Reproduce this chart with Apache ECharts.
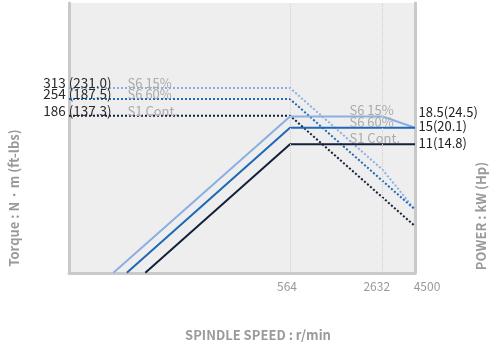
<!DOCTYPE html>
<html>
<head>
<meta charset="utf-8">
<script src="https://cdn.jsdelivr.net/npm/echarts@6/dist/echarts.min.js"></script>
<style>
  html, body { margin: 0; padding: 0; background: #fff; }
  #chart { width: 497px; height: 350px; }
</style>
</head>
<body>
<div id="chart"></div>
<script>
// Spindle speed ticks (r/min)
const speedTicks = [564, 2632, 4500];

// Output power curves: [speed r/min, power kW]
const powerS6_15 = [[30, 0.98], [564, 18.5], [2632, 18.5], [4500, 15]];
const powerS6_60 = [[37.5, 0.98], [564, 15], [4500, 15]];
const powerS1 = [[51, 0.98], [564, 11], [4500, 11]];

// Torque curves: [speed r/min, torque N·m]
const torqueS6_15 = [[14.35, 313], [564, 313], [2632, 67.1], [4500, 31.8]];
const torqueS6_60 = [[14.35, 254], [564, 254], [4500, 31.8]];
const torqueS1 = [[14.35, 186], [564, 186], [4500, 23.3]];

// Rated values
const dutyNames = ['S6 15%', 'S6 60%', 'S1 Cont.'];
const torqueRated = [313, 254, 186];
const torqueLabels = ['313 (231.0)', '254 (187.5)', '186 (137.3)'];
const powerRated = [18.5, 15, 11];
const powerLabels = ['18.5(24.5)', '15(20.1)', '11(14.8)'];

const colors = ['#8cafe2', '#1f68b4', '#14213a'];
const FONT = '"Noto Sans CJK JP", "Noto Sans", sans-serif';
const X_MIN = 14.35, X_MAX = 4500;

function torqueMarks(i) {
  return {
    symbol: 'circle', symbolSize: 1, silent: true,
    itemStyle: { color: 'rgba(0,0,0,0)' },
    data: [
      { coord: [X_MIN, torqueRated[i]],
        label: { show: true, formatter: torqueLabels[i], position: 'left', distance: 0,
                 offset: [43, -5], color: '#2a2a2a', fontSize: 13.5, fontFamily: FONT } },
      { coord: [X_MIN, torqueRated[i]],
        label: { show: true, formatter: dutyNames[i], position: 'right', distance: 0,
                 offset: [58, -5], color: '#aaa', fontSize: 13, fontFamily: FONT } }
    ]
  };
}

const powerOffsets = [-4, -2, -1];
function powerMarks(i) {
  return {
    symbol: 'circle', symbolSize: 1, silent: true,
    itemStyle: { color: 'rgba(0,0,0,0)' },
    data: [
      { coord: [X_MAX, powerRated[i]],
        label: { show: true, formatter: powerLabels[i], position: 'right', distance: 0,
                 offset: [3, powerOffsets[i]], color: '#222', fontSize: 13, fontFamily: FONT } },
      { coord: [speedTicks[0], powerRated[i]],
        label: { show: true, formatter: dutyNames[i], position: 'right', distance: 0,
                 offset: [59, -6], color: '#aaa', fontSize: 13, fontFamily: FONT } }
    ]
  };
}

// Speed gridlines with their tick labels under the axis
const tickLabelShift = [-3, -6, 12];
const speedLines = {
  symbol: 'none', silent: true,
  lineStyle: { color: '#cfcfcf', type: 'dotted', width: 1 },
  label: { show: true, position: 'start', distance: 7, color: '#999', fontSize: 12,
           fontFamily: FONT, formatter: p => String(p.value) },
  data: speedTicks.map((v, i) => {
    const item = { xAxis: v, label: { offset: [tickLabelShift[i], 0] } };
    if (i === speedTicks.length - 1) item.lineStyle = { color: 'rgba(0,0,0,0)' };
    return item;
  })
};

const torqueData = [torqueS6_15, torqueS6_60, torqueS1];
const powerData = [powerS6_15, powerS6_60, powerS1];

const series = [];
torqueData.forEach((d, i) => {
  series.push({
    type: 'line', yAxisIndex: 0, data: d, symbol: 'none', silent: true,
    lineStyle: { color: colors[i], width: 2, type: 'dotted' },
    markPoint: torqueMarks(i),
    markLine: i === 0 ? speedLines : undefined,
    z: 3
  });
});
powerData.forEach((d, i) => {
  series.push({
    type: 'line', yAxisIndex: 1, data: d, symbol: 'none', silent: true,
    lineStyle: { color: colors[i], width: 2, type: 'solid' },
    markPoint: powerMarks(i),
    z: 4
  });
});

const axisLine = { show: true, lineStyle: { color: '#c9c9c9', width: 3 } };

const chart = echarts.init(document.getElementById('chart'), null, { renderer: 'canvas' });
chart.setOption({
  animation: false,
  textStyle: { fontFamily: FONT },
  grid: { left: 69, right: 82, top: 3, bottom: 77, show: true,
          backgroundColor: '#eeeeee', borderWidth: 0 },
  xAxis: {
    type: 'log', min: X_MIN, max: X_MAX,
    axisLine: axisLine, axisTick: { show: false }, axisLabel: { show: false },
    splitLine: { show: false }, minorSplitLine: { show: false }
  },
  yAxis: [
    { type: 'log', min: 9.66, max: 1545, position: 'left',
      axisLine: axisLine, axisTick: { show: false }, axisLabel: { show: false },
      splitLine: { show: false } },
    { type: 'log', min: 0.977, max: 156.3, position: 'right',
      axisLine: axisLine, axisTick: { show: false }, axisLabel: { show: false },
      splitLine: { show: false } }
  ],
  graphic: [
    { type: 'text', x: 258, y: 335, silent: true,
      style: { text: 'SPINDLE SPEED : r/min', fill: '#9a9a9a', font: 'bold 13px ' + FONT,
               textAlign: 'center', textVerticalAlign: 'middle' } },
    { type: 'text', x: 14, y: 198, rotation: Math.PI / 2, silent: true,
      style: { text: 'Torque : N · m (ft-lbs)', fill: '#9a9a9a', font: 'bold 13px ' + FONT,
               textAlign: 'center', textVerticalAlign: 'middle' } },
    { type: 'text', x: 481, y: 216, rotation: Math.PI / 2, silent: true,
      style: { text: 'POWER : kW (Hp)', fill: '#9a9a9a', font: 'bold 13px ' + FONT,
               textAlign: 'center', textVerticalAlign: 'middle' } }
  ],
  series: series
});
</script>
</body>
</html>
